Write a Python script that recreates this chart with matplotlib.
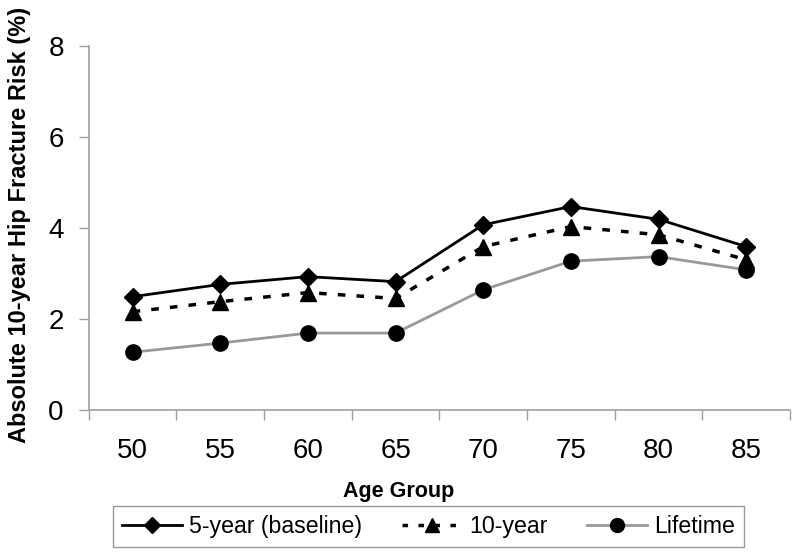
import matplotlib
matplotlib.use("Agg")
import matplotlib.pyplot as plt
from matplotlib.lines import Line2D

plt.rcParams['font.family'] = ['Liberation Sans', 'DejaVu Sans']

age_groups = ["50", "55", "60", "65", "70", "75", "80", "85"]
five_year = [2.49, 2.76, 2.93, 2.82, 4.07, 4.47, 4.19, 3.59]
ten_year = [2.16, 2.38, 2.58, 2.45, 3.59, 4.03, 3.85, 3.30]
lifetime = [1.27, 1.47, 1.69, 1.69, 2.64, 3.27, 3.37, 3.08]
series_labels = ["5-year (baseline)", "10-year", "Lifetime"]

fig = plt.figure(figsize=(8, 5.53), dpi=100)
ax = fig.add_axes([0.111, 0.2586, 0.8765, 0.6584])

x = list(range(len(age_groups)))
ax.plot(x, five_year, color='black', lw=2, marker='D', ms=9, mfc='black', mec='black', zorder=3)
ax.plot(x, ten_year, color='black', lw=2.5, ls=(0, (2.2, 3.2)), marker='^', ms=11, mfc='black', mec='black', zorder=3)
ax.plot(x, lifetime, color='#999999', lw=2, marker='o', ms=11, mfc='black', mec='black', zorder=3)

ax.set_xlim(-0.5, len(age_groups) - 0.5)
ax.set_ylim(0, 8)
ax.set_yticks([0, 2, 4, 6, 8])
ax.set_xticks([i - 0.5 for i in range(len(age_groups) + 1)])
ax.set_xticklabels([])
ax.set_xticks(x, minor=True)
ax.set_xticklabels(age_groups, minor=True)
ax.tick_params(axis='x', which='minor', length=0, pad=20, labelsize=20)
ax.tick_params(axis='x', which='major', length=7, width=1, color='#a0a0a0', direction='out')
ax.tick_params(axis='y', length=7, width=1, color='#a0a0a0', direction='out', labelsize=20, pad=11)

for s in ['top', 'right']:
    ax.spines[s].set_visible(False)
for s in ['left', 'bottom']:
    ax.spines[s].set_color('#a0a0a0')
    ax.spines[s].set_linewidth(1.2)

ax.set_xlabel("Age Group", fontsize=15.5, fontweight='bold', va='center')
ax.xaxis.set_label_coords(398.5 / 800, 1 - 492 / 553, transform=fig.transFigure)
ax.set_ylabel("Absolute 10-year Hip Fracture Risk (%)", fontsize=17, fontweight='bold')
ax.yaxis.set_label_coords(31 / 800, 1 - 225 / 553, transform=fig.transFigure)

handles = [
    Line2D([], [], color='black', lw=2, marker='D', ms=8, mfc='black', mec='black'),
    Line2D([], [], color='black', lw=2.5, ls=(0, (1.6, 3.0)), marker='^', ms=10, mfc='black', mec='black'),
    Line2D([], [], color='#999999', lw=2, marker='o', ms=10, mfc='black', mec='black'),
]
leg = fig.legend(handles, series_labels, loc='center', bbox_to_anchor=(428.5 / 800, 1 - 526.5 / 553),
                 ncol=3, fontsize=16.7, frameon=True, fancybox=False, edgecolor='#808080',
                 handlelength=2.6, handletextpad=0.3, columnspacing=1.7, borderpad=0.4,
                 borderaxespad=0)
leg.get_frame().set_linewidth(1)

fig.savefig("out.png", dpi=100)
